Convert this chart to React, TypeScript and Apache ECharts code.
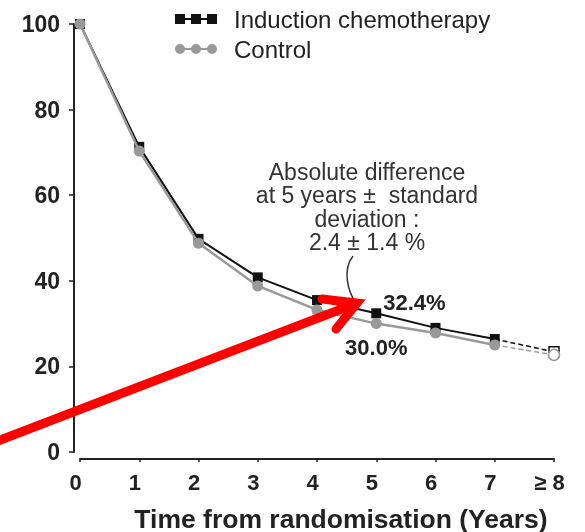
import React, { useEffect, useRef } from "react";
import * as echarts from "echarts";

const years = [0, 1, 2, 3, 4, 5, 6, 7, 8];
const xTickLabels = ["0", "1", "2", "3", "4", "5", "6", "7", "≥ 8"];
const induction = [100, 71.3, 49.8, 40.8, 35.5, 32.4, 29.0, 26.4, 23.4];
const control = [100, 70.3, 48.8, 38.8, 33.2, 30.0, 27.8, 25.0, 22.7];
const seriesNames = ["Induction chemotherapy", "Control"];
const annotation = "Absolute difference\nat 5 years ±  standard\ndeviation :\n2.4 ± 1.4 %";
const xTitle = "Time from randomisation (Years)";

const FONT = "'Liberation Sans', Arial, sans-serif";
const BLACK = "#111";
const GREY = "#999";

const squaresIcon = "path://M0,0H10V4H16V0H26V4H32V0H42V10H32V6H26V10H16V6H10V10H0Z";
const circlesIcon =
  "path://M0,5a5,5 0 1,1 10,0a5,5 0 1,1 -10,0ZM16,5a5,5 0 1,1 10,0a5,5 0 1,1 -10,0ZM32,5a5,5 0 1,1 10,0a5,5 0 1,1 -10,0ZM5,4H37V6H5Z";

export default function App() {
  const ref = useRef<HTMLDivElement>(null);
  useEffect(() => {
    if (!ref.current) return;
    const chart = echarts.init(ref.current, null, { renderer: "svg" });
    const last = years.length - 1;
    const pctLabel = (v: number) => v.toFixed(1) + "%";

    const solid = (vals: number[], labelCfg: any) =>
      years.slice(0, last).map((x, i) =>
        i === 5
          ? { value: [x, vals[i]], label: { show: true, formatter: pctLabel(vals[i]), ...labelCfg } }
          : { value: [x, vals[i]] }
      );
    const dashed = (vals: number[], symbol: string, color: string) => [
      { value: [years[last - 1], vals[last - 1]], symbol: "none" },
      {
        value: [years[last], vals[last]],
        symbol,
        itemStyle: { color: "#fff", borderColor: color, borderWidth: 1.5 },
      },
    ];

    const pctStyle = { fontSize: 22, fontWeight: "bold", color: "#222", fontFamily: FONT };

    chart.setOption({
      animation: false,
      grid: { left: 80, right: 31, top: 24, bottom: 80, containLabel: false, outerBoundsMode: "none" },
      legend: {
        orient: "vertical",
        left: 170,
        top: 2,
        itemWidth: 42,
        itemHeight: 10,
        itemGap: 6,
        textStyle: { fontSize: 24, color: "#222", fontFamily: FONT, padding: [0, 0, 0, 12] },
        data: [
          { name: seriesNames[0], icon: squaresIcon },
          { name: seriesNames[1], icon: circlesIcon },
        ],
      },
      xAxis: {
        type: "value",
        min: 0,
        max: 8,
        interval: 1,
        offset: 7,
        splitLine: { show: false },
        axisLine: { show: true, onZero: false, lineStyle: { color: "#222", width: 2 } },
        axisTick: { show: true, length: 3, lineStyle: { color: "#222", width: 1.5 } },
        axisLabel: {
          fontSize: 22,
          fontWeight: "bold",
          color: "#222",
          fontFamily: FONT,
          margin: 12,
          padding: [0, 9, 0, 0],
          formatter: (v: number) => xTickLabels[v] ?? "",
        },
        name: xTitle,
        nameLocation: "middle",
        nameGap: 46,
        nameTextStyle: {
          fontSize: 26.5,
          fontWeight: "bold",
          color: "#222",
          fontFamily: FONT,
          padding: [0, 0, 0, 48],
        },
      },
      yAxis: {
        type: "value",
        min: 0,
        max: 100,
        interval: 20,
        offset: 6,
        splitLine: { show: false },
        axisLine: { show: true, onZero: false, lineStyle: { color: "#222", width: 2 } },
        axisTick: { show: true, length: 5, lineStyle: { color: "#222", width: 1.5 } },
        axisLabel: { fontSize: 23, fontWeight: "bold", color: "#222", fontFamily: FONT, margin: 14 },
      },
      series: [
        {
          name: seriesNames[0],
          type: "line",
          symbol: "rect",
          symbolSize: 10,
          itemStyle: { color: BLACK },
          lineStyle: { color: BLACK, width: 2 },
          z: 3,
          data: solid(induction, { position: "right", distance: 2, offset: [0, -11], ...pctStyle }),
        },
        {
          name: seriesNames[0] + " (≥8)",
          type: "line",
          symbol: "rect",
          symbolSize: 10,
          itemStyle: { color: BLACK },
          lineStyle: { color: BLACK, width: 1.5, type: [5, 3] },
          z: 3,
          data: dashed(induction, "rect", BLACK),
        },
        {
          name: seriesNames[1],
          type: "line",
          symbol: "circle",
          symbolSize: 11,
          itemStyle: { color: GREY },
          lineStyle: { color: GREY, width: 2.5 },
          z: 4,
          data: solid(control, { position: "bottom", distance: 7, ...pctStyle }),
        },
        {
          name: seriesNames[1] + " (≥8)",
          type: "line",
          symbol: "circle",
          symbolSize: 11,
          itemStyle: { color: GREY },
          lineStyle: { color: GREY, width: 1.5, type: [5, 3] },
          z: 4,
          data: dashed(control, "circle", GREY),
        },
      ],
      graphic: [
        {
          type: "text",
          x: 367,
          y: 160,
          z: 50,
          style: {
            text: annotation,
            textAlign: "center",
            fontSize: 23,
            lineHeight: 23.5,
            fill: "#333",
            fontFamily: FONT,
          },
        },
        {
          type: "bezierCurve",
          z: 50,
          shape: { x1: 353, y1: 256, cpx1: 342, cpy1: 270, cpx2: 348, cpy2: 292, x2: 356, y2: 303 },
          style: { stroke: "#333", lineWidth: 1.5, fill: "none" },
        },
        {
          type: "line",
          z: 60,
          shape: { x1: -5, y1: 442, x2: 352, y2: 305 },
          style: { stroke: "#ff0000", lineWidth: 9 },
        },
        {
          type: "polyline",
          z: 60,
          shape: { points: [[322, 299], [357, 303], [336, 329]] },
          style: { stroke: "#ff0000", lineWidth: 9, lineJoin: "miter", lineCap: "round", fill: "none" },
        },
      ],
    });
    return () => chart.dispose();
  }, []);
  return <div ref={ref} style={{ position: "fixed", left: 0, top: 0, width: 585, height: 532 }} />;
}
